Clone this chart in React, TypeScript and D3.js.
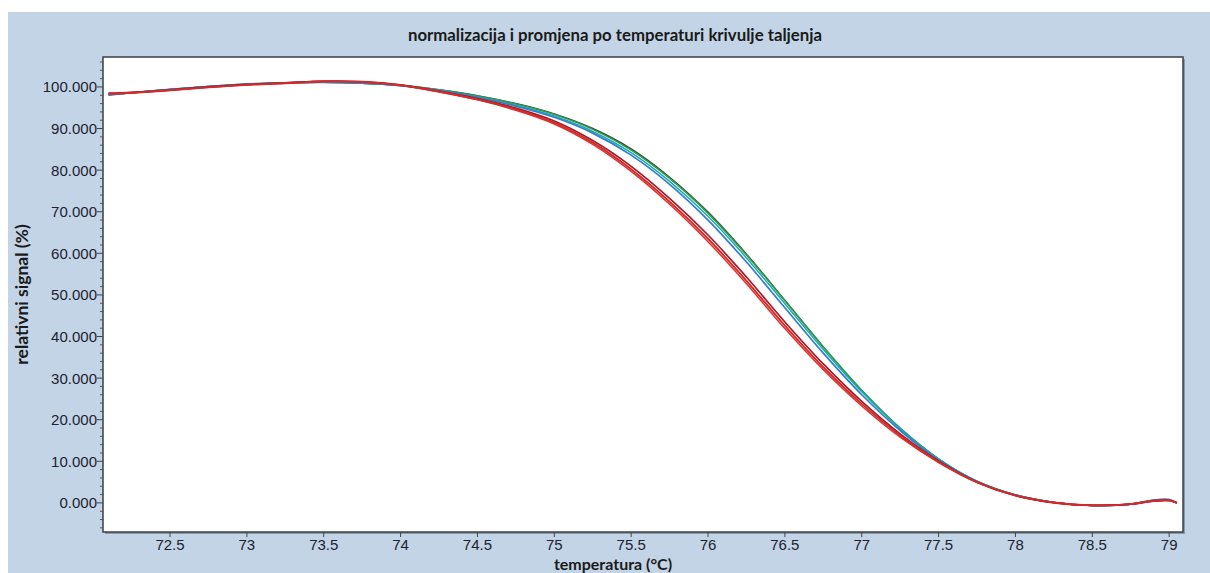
import React from "react";
import * as d3 from "d3";

const temps = [72.1, 72.25, 72.5, 72.75, 73.0, 73.25, 73.5, 73.75, 74.0, 74.25, 74.5, 74.75, 75.0, 75.25, 75.5, 75.75, 76.0, 76.25, 76.5, 76.75, 77.0, 77.25, 77.5, 77.75, 78.0, 78.25, 78.5, 78.75, 78.9, 79.0, 79.05];

const redA = [98.4, 98.6, 99.2, 99.9, 100.5, 100.9, 101.3, 101.2, 100.4, 98.9, 97.0, 94.6, 91.4, 86.6, 80.2, 72.4, 63.5, 53.4, 42.6, 32.6, 23.8, 16.2, 9.9, 5.0, 1.8, 0.1, -0.6, -0.3, 0.5, 0.6, 0.0];
const redB = [98.5, 98.7, 99.3, 100.0, 100.6, 101.0, 101.4, 101.3, 100.5, 99.0, 97.2, 94.9, 91.8, 87.1, 80.9, 73.2, 64.4, 54.3, 43.5, 33.4, 24.4, 16.6, 10.1, 5.0, 1.8, 0.1, -0.6, -0.3, 0.5, 0.6, 0.0];
const redC = [98.3, 98.6, 99.2, 99.9, 100.5, 100.9, 101.3, 101.2, 100.4, 98.8, 96.9, 94.4, 91.1, 86.2, 79.7, 71.8, 62.8, 52.7, 41.9, 32.0, 23.3, 15.8, 9.7, 4.9, 1.7, 0.0, -0.6, -0.3, 0.4, 0.5, 0.0];
const blue = [98.0, 98.6, 99.4, 100.1, 100.7, 101.0, 101.1, 100.9, 100.3, 99.1, 97.5, 95.4, 92.7, 88.9, 83.6, 76.6, 68.0, 57.9, 46.9, 36.0, 26.0, 17.4, 10.3, 5.1, 1.9, 0.1, -0.6, -0.3, 0.7, 0.8, 0.0];
const cyan = [98.1, 98.6, 99.4, 100.1, 100.7, 101.0, 101.1, 100.9, 100.3, 99.2, 97.6, 95.6, 93.0, 89.3, 84.2, 77.3, 68.9, 58.9, 47.9, 36.9, 26.7, 17.8, 10.5, 5.2, 1.9, 0.1, -0.6, -0.3, 0.7, 0.8, 0.0];
const green = [98.2, 98.6, 99.4, 100.1, 100.6, 101.0, 101.1, 100.9, 100.4, 99.3, 97.8, 95.9, 93.4, 89.8, 84.8, 78.0, 69.6, 59.6, 48.6, 37.5, 27.1, 18.0, 10.6, 5.2, 1.9, 0.1, -0.6, -0.3, 0.6, 0.7, 0.0];
const dark = [98.2, 98.6, 99.4, 100.1, 100.6, 101.0, 101.1, 100.9, 100.4, 99.3, 97.9, 96.0, 93.5, 90.0, 85.1, 78.3, 69.9, 59.8, 48.7, 37.5, 27.0, 17.9, 10.5, 5.1, 1.9, 0.1, -0.6, -0.3, 0.6, 0.7, 0.0];

const seriesList = [
  { name: "dark", values: dark, color: "#3c4a3c", width: 1.5 },
  { name: "green", values: green, color: "#2ca048", width: 1.5 },
  { name: "cyan", values: cyan, color: "#1fa9b4", width: 1.5 },
  { name: "blue", values: blue, color: "#2f7fd0", width: 1.7 },
  { name: "redC", values: redC, color: "#e03030", width: 1.5 },
  { name: "redB", values: redB, color: "#a01c28", width: 1.7 },
  { name: "redA", values: redA, color: "#d42a2a", width: 1.9 },
];

const xTicks = [72.5, 73, 73.5, 74, 74.5, 75, 75.5, 76, 76.5, 77, 77.5, 78, 78.5, 79];
const yTicks = [0, 10, 20, 30, 40, 50, 60, 70, 80, 90, 100];
const yMinorTicks = d3.range(-6, 107, 2).filter((v) => v % 10 !== 0);

const title = "normalizacija i promjena po temperaturi krivulje taljenja";
const xLabel = "temperatura (°C)";
const yLabel = "relativni signal (%)";

export default function App() {
  const W = 1210, H = 573;
  const L = 103, R = 1183, T = 57, B = 532;
  const x = d3.scaleLinear().domain([72.064, 79.09]).range([L, R]);
  const y = d3.scaleLinear().domain([-7, 107.2]).range([B, T]);
  const line = d3
    .line<number>()
    .x((_, i) => x(temps[i]))
    .y((d) => y(d))
    .curve(d3.curveCatmullRom.alpha(0.5));
  const tickFont = "'Liberation Sans', Arial, sans-serif";
  const labelFont = "Lato, 'Open Sans', sans-serif";
  return (
    <svg width={W} height={H} style={{ position: "absolute", left: 0, top: 0 }}>
      <rect x={0} y={0} width={W} height={H} fill="#ffffff" />
      <rect x={8} y={12} width={W - 8} height={H - 12} fill="#c2d4e5" />
      <text x={615} y={41} textAnchor="middle" fontFamily={labelFont} fontWeight={700} fontSize={16.8} fill="#1a1a1a">
        {title}
      </text>
      <rect x={L + 2} y={T + 2} width={R - L} height={B - T} fill="#8a9aab" />
      <rect x={L} y={T} width={R - L} height={B - T} fill="#ffffff" stroke="#3a3f45" strokeWidth={1.5} />
      <defs>
        <clipPath id="plotclip">
          <rect x={L + 1} y={T + 1} width={R - L - 2} height={B - T - 2} />
        </clipPath>
      </defs>
      <g clipPath="url(#plotclip)">
        {seriesList.map((s) => (
          <path key={s.name} d={line(s.values) || ""} fill="none" stroke={s.color} strokeWidth={s.width} strokeLinejoin="round" />
        ))}
      </g>
      {yMinorTicks.map((v) => (
        <line key={"m" + v} x1={L - 3} x2={L} y1={y(v)} y2={y(v)} stroke="#555" strokeWidth={1} />
      ))}
      {yTicks.map((v) => (
        <g key={"y" + v}>
          <line x1={L - 6} x2={L} y1={y(v)} y2={y(v)} stroke="#444" strokeWidth={1} />
          <text x={L - 6} y={y(v)} dy="0.36em" textAnchor="end" fontFamily={tickFont} fontSize={15} fill="#1e2230">
            {d3.format(".3f")(v)}
          </text>
        </g>
      ))}
      {xTicks.map((v) => (
        <g key={"x" + v}>
          <line x1={x(v)} x2={x(v)} y1={B} y2={B + 5} stroke="#444" strokeWidth={1} />
          <text x={x(v)} y={B + 18} textAnchor="middle" fontFamily={tickFont} fontSize={15} fill="#1e2230">
            {String(v)}
          </text>
        </g>
      ))}
      <text x={613} y={570} textAnchor="middle" fontFamily={labelFont} fontWeight={700} fontSize={16} fill="#1a1a1a">
        {xLabel}
      </text>
      <text transform={`translate(28,${(T + B) / 2}) rotate(-90)`} textAnchor="middle" fontFamily={labelFont} fontWeight={700} fontSize={17.5} fill="#1a1a1a">
        {yLabel}
      </text>
    </svg>
  );
}
